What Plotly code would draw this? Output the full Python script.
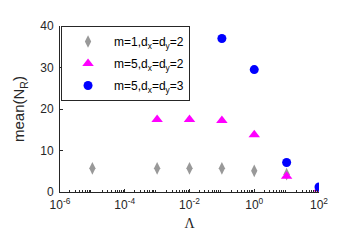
import plotly.graph_objects as go

# data
lam_m1 = [1e-5, 1e-3, 1e-2, 1e-1, 1e0, 1e1, 1e2]
nr_m1 = [5.7, 5.7, 5.7, 5.7, 5.1, 4.3, 0.6]

lam_m5d2 = [1e-3, 1e-2, 1e-1, 1e0, 1e1, 1e2]
nr_m5d2 = [17.5, 17.5, 17.2, 13.8, 3.8, 0.7]

lam_m5d3 = [1e-1, 1e0, 1e1, 1e2]
nr_m5d3 = [37.0, 29.5, 7.1, 1.2]

series_names = ["m=1,d<sub>x</sub>=d<sub>y</sub>=2",
                "m=5,d<sub>x</sub>=d<sub>y</sub>=2",
                "m=5,d<sub>x</sub>=d<sub>y</sub>=3"]

xtick_vals = [1e-6, 1e-4, 1e-2, 1e0, 1e2]
xtick_text = ["10<sup>-6</sup>", "10<sup>-4</sup>", "10<sup>-2</sup>", "10<sup>0</sup>", "10<sup>2</sup>"]
ytick_vals = [0, 10, 20, 30, 40]

minor_vals = [k * 10.0 ** e for e in range(-6, 2) for k in range(2, 10)]

fig = go.Figure()
fig.add_trace(go.Scatter(x=lam_m1, y=nr_m1, mode="markers", name=series_names[0],
                         legendgroup="a",
                         marker=dict(symbol="diamond-tall", size=9, color="#999999")))
fig.add_trace(go.Scatter(x=lam_m5d2, y=nr_m5d2, mode="markers", name=series_names[1],
                         legendgroup="b",
                         marker=dict(symbol="triangle-up", size=10, color="#FF00FF")))
fig.add_trace(go.Scatter(x=lam_m5d3, y=nr_m5d3, mode="markers", name=series_names[2],
                         legendgroup="c",
                         marker=dict(symbol="circle", size=9, color="#0000FF")))

font = "Liberation Sans, Arial, sans-serif"
fig.update_layout(
    width=352, height=240,
    margin=dict(l=43, r=41, t=11, b=56),
    paper_bgcolor="white", plot_bgcolor="white",
    font=dict(family=font, size=12, color="#262626"),
    showlegend=True,
    legend=dict(x=0.004, y=1, xanchor="left", yanchor="top",
                bordercolor="#262626", borderwidth=1, bgcolor="white",
                font=dict(size=12, color="#000000"), tracegroupgap=3, itemwidth=42),
    xaxis=dict(type="log", range=[-6, 2], showline=True, linecolor="#262626", linewidth=1,
               mirror=False, showgrid=False, zeroline=False,
               ticks="inside", ticklen=3, tickcolor="#262626",
               tickmode="array", tickvals=xtick_vals, ticktext=xtick_text,
               tickfont=dict(size=12, color="#262626"), ticklabelstandoff=2,
               minor=dict(ticks="inside", ticklen=2, tickcolor="#262626",
                          tickmode="array", tickvals=minor_vals, showgrid=False),
               title=dict(text="Λ", font=dict(family="Liberation Serif, Times New Roman, serif", size=14, color="#262626"), standoff=6)),
    yaxis=dict(range=[0, 40], showline=True, linecolor="#262626", linewidth=1,
               showgrid=False, zeroline=False,
               ticks="inside", ticklen=3, tickcolor="#262626",
               tickmode="array", tickvals=ytick_vals,
               tickfont=dict(size=12, color="#262626"), ticklabelstandoff=3,
               title=dict(text="mean(N<sub>R</sub>)", font=dict(size=15, color="#262626"), standoff=11)),
)

fig.write_html("out.html")
